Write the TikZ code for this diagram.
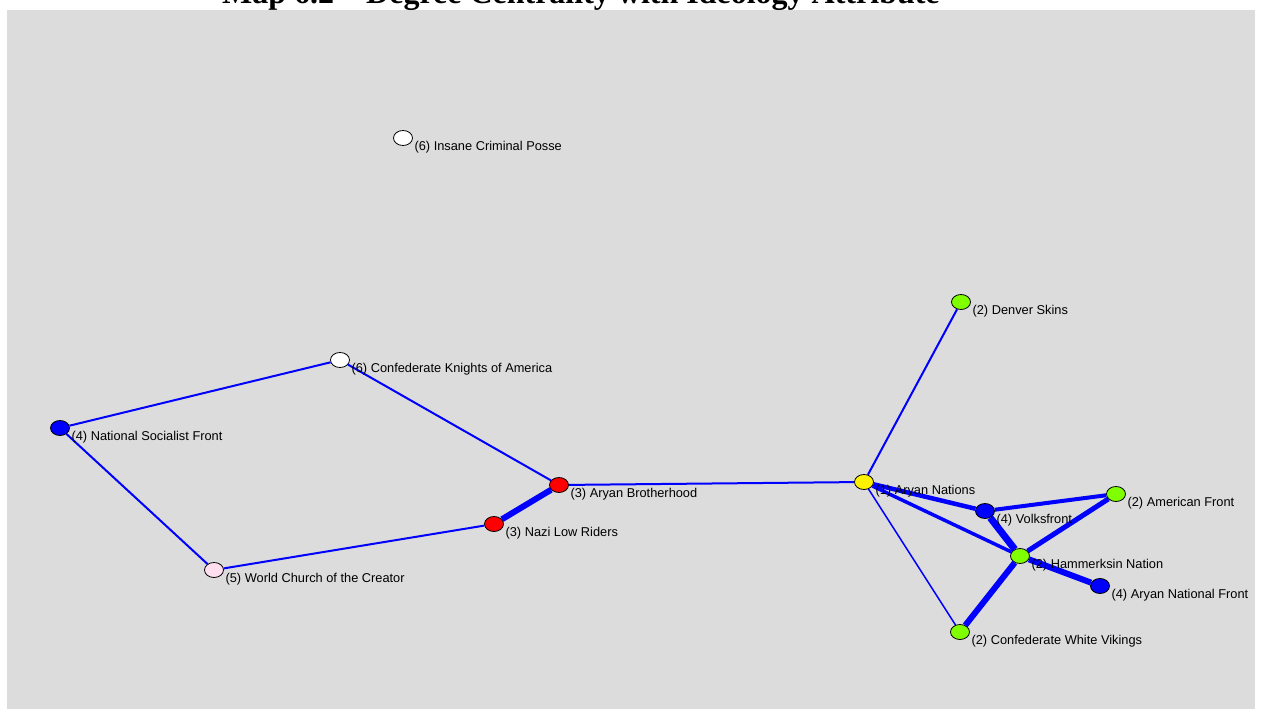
\documentclass[tikz,border=0pt]{standalone}
\usepackage{fontspec}
\setmainfont{Liberation Serif}
\newfontfamily\labelfont{Liberation Sans}
\usetikzlibrary{positioning,shapes.geometric}

\definecolor{panelgrey}{RGB}{220,220,220}
\definecolor{ideogreen}{RGB}{128,255,0}
\definecolor{ideopink}{RGB}{255,222,240}

\begin{document}
\begin{tikzpicture}[x=1pt,y=-1pt,node distance=1.5pt,
    org/.style = {shape=ellipse, draw=black, line width=0.8pt, minimum width=19pt, minimum height=15pt, inner sep=0pt},
    txt/.style = {font=\labelfont\fontsize{12.8}{13}\selectfont, inner sep=0pt, yshift=-9.5pt},
    tie/.style = {draw=blue, line width=2pt},
    strong/.style = {draw=blue, line width=6pt}]
            \clip (0,0) rectangle (1261,709);
            \fill[white] (0,0) rectangle (1261,709);
            \fill[panelgrey] (7,10) rectangle (1255,709);
            \node (title) [anchor=base west, inner sep=0pt, font=\bfseries\fontsize{32}{34}\selectfont] at (222,4) {Map 6.2 -- Degree Centrality with Ideology Attribute};

            \node (icp) [org, fill=white] at (403,138) {};
            \node (ds) [org, fill=ideogreen] at (961,302) {};
            \node (cka) [org, fill=white] at (340,360) {};
            \node (nsf) [org, fill=blue] at (60,428) {};
            \node (ab) [org, fill=red] at (559,485) {};
            \node (nlr) [org, fill=red] at (494,524) {};
            \node (wcc) [org, fill=ideopink] at (214,570) {};
            \node (an) [org, fill=yellow] at (864,482) {};
            \node (vf) [org, fill=blue] at (985,511) {};
            \node (af) [org, fill=ideogreen] at (1116,494) {};
            \node (hn) [org, fill=ideogreen] at (1020,556) {};
            \node (anf) [org, fill=blue] at (1100,586) {};
            \node (cwv) [org, fill=ideogreen] at (960,632) {};

            \path (nsf) edge[tie] (cka);
            \path (cka) edge[tie] (ab);
            \path (nsf) edge[tie] (wcc);
            \path (wcc) edge[tie] (nlr);
            \path (nlr) edge[strong] (ab);
            \path (ab) edge[tie] (an);
            \path (an) edge[tie] (ds);
            \path (an) edge[tie, line width=1.5pt] (cwv);
            \path (an) edge[tie, line width=4.5pt] (vf);
            \path (an) edge[tie, line width=3.5pt] (hn);
            \path (vf) edge[tie, line width=4pt] (af);
            \path (vf) edge[strong, line width=7pt] (hn);
            \path (af) edge[tie, line width=5pt] (hn);
            \path (hn) edge[strong] (cwv);
            \path (hn) edge[strong] (anf);

            \node (icp-t) [txt, right=of icp] {(6) Insane Criminal Posse};
            \node (ds-t) [txt, right=of ds] {(2) Denver Skins};
            \node (cka-t) [txt, right=of cka] {(6) Confederate Knights of America};
            \node (nsf-t) [txt, right=of nsf] {(4) National Socialist Front};
            \node (ab-t) [txt, right=of ab] {(3) Aryan Brotherhood};
            \node (nlr-t) [txt, right=of nlr] {(3) Nazi Low Riders};
            \node (wcc-t) [txt, right=of wcc] {(5) World Church of the Creator};
            \node (an-t) [txt, right=of an] {(1) Aryan Nations};
            \node (vf-t) [txt, right=of vf] {(4) Volksfront};
            \node (af-t) [txt, right=of af] {(2) American Front};
            \node (hn-t) [txt, right=of hn] {(2) Hammerksin Nation};
            \node (anf-t) [txt, right=of anf] {(4) Aryan National Front};
            \node (cwv-t) [txt, right=of cwv] {(2) Confederate White Vikings};
\end{tikzpicture}
\end{document}
